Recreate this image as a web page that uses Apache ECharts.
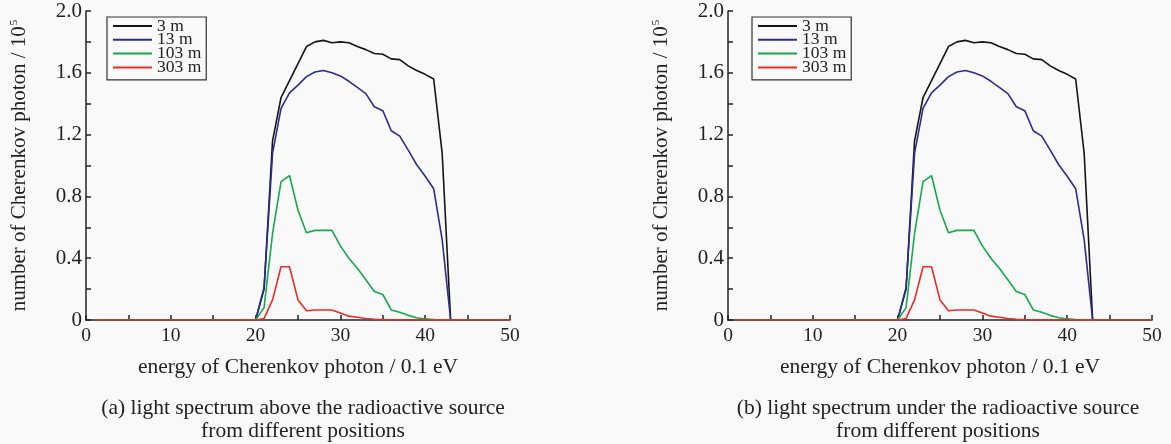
<!DOCTYPE html>
<html>
<head>
<meta charset="utf-8">
<script src="https://cdn.jsdelivr.net/npm/echarts@6/dist/echarts.min.js"></script>
<style>
html,body{margin:0;padding:0;background:#f9f9f9;}
#chart{width:1171px;height:444px;}
</style>
</head>
<body>
<div id="chart"></div>
<script>
// energy (x, in 0.1 eV)
const energies = [1,2,3,4,5,6,7,8,9,10,11,12,13,14,15,16,17,18,19,20,21,22,23,24,25,26,27,28,29,30,31,32,33,34,35,36,37,38,39,40,41,42,43,44,45,46,47,48,49,50];
// number of Cherenkov photon / 10^5
const d3m   = [0,0,0,0,0,0,0,0,0,0,0,0,0,0,0,0,0,0,0,0,0.20,1.16,1.44,1.55,1.66,1.77,1.80,1.81,1.795,1.80,1.795,1.77,1.75,1.725,1.72,1.69,1.685,1.645,1.615,1.59,1.56,1.08,0,0,0,0,0,0,0,0];
const d13m  = [0,0,0,0,0,0,0,0,0,0,0,0,0,0,0,0,0,0,0,0,0.21,1.08,1.37,1.47,1.52,1.575,1.605,1.615,1.60,1.58,1.545,1.505,1.465,1.38,1.355,1.225,1.19,1.10,1.005,0.93,0.85,0.52,0,0,0,0,0,0,0,0];
const d103m = [0,0,0,0,0,0,0,0,0,0,0,0,0,0,0,0,0,0,0,0,0.08,0.56,0.895,0.935,0.71,0.565,0.58,0.58,0.58,0.48,0.40,0.335,0.26,0.185,0.165,0.065,0.05,0.03,0.015,0.007,0.003,0.002,0,0,0,0,0,0,0,0];
const d303m = [0,0,0,0,0,0,0,0,0,0,0,0,0,0,0,0,0,0,0,0,0.01,0.13,0.345,0.345,0.13,0.06,0.065,0.065,0.065,0.045,0.025,0.018,0.01,0.005,0.003,0.002,0,0,0,0,0,0,0,0,0,0,0,0,0,0];
const seriesNames = ['3 m','13 m','103 m','303 m'];
const seriesColors = ['#151515','#2b2e8c','#17a84a','#ee2a24'];
const panelA = [d3m, d13m, d103m, d303m];
const panelB = [d3m, d13m, d103m, d303m];
const xTickLabels = ['0','10','20','30','40','50'];
const yTickLabels = ['0','0.4','0.8','1.2','1.6','2.0'];
const captionsA = ['(a) light spectrum above the radioactive source','from different positions'];
const captionsB = ['(b) light spectrum under the radioactive source','from different positions'];

const FONT = '"Liberation Serif","Times New Roman",serif';
const TXT = '#222';
const chart = echarts.init(document.getElementById('chart'));

const grids = [
  {left: 86, top: 11, width: 424, height: 309},
  {left: 728, top: 11, width: 424, height: 309}
];
const legendLeft = [107, 752];

function xAxisOpt(i){
  return {
    gridIndex: i, type: 'value', min: 0, max: 50, interval: 5,
    name: 'energy of Cherenkov photon / 0.1 eV', nameLocation: 'middle', nameGap: 36,
    nameTextStyle: {fontFamily: FONT, fontSize: 21.5, color: TXT},
    axisLine: {show: true, onZero: false, lineStyle: {color: '#222', width: 1.5}},
    axisTick: {show: true, inside: true, length: 5, lineStyle: {color: '#222', width: 1.5}},
    axisLabel: {margin: 6, fontFamily: FONT, fontSize: 19.5, color: TXT,
      formatter: v => { const s = String(v); return xTickLabels.indexOf(s) >= 0 ? s : ''; }},
    splitLine: {show: false}
  };
}
function yAxisOpt(i){
  return {
    gridIndex: i, type: 'value', min: 0, max: 2, interval: 0.2,
    name: 'number of Cherenkov photon / 10{sup|5}', nameLocation: 'middle', nameGap: 56,
    nameTextStyle: {fontFamily: FONT, fontSize: 21, color: TXT,
      rich: {sup: {fontFamily: FONT, fontSize: 11, color: TXT, verticalAlign: 'top', padding: [0,0,9,1]}}},
    axisLine: {show: true, lineStyle: {color: '#222', width: 1.5}},
    axisTick: {show: true, inside: true, length: 5, lineStyle: {color: '#222', width: 1.5}},
    axisLabel: {margin: 4, fontFamily: FONT, fontSize: 21, color: TXT,
      formatter: v => { const k = Math.round(v * 10); const s = k === 0 ? '0' : (k / 10).toFixed(1); return yTickLabels.indexOf(s) >= 0 ? s : ''; }},
    splitLine: {show: false}
  };
}

const series = [];
[panelA, panelB].forEach((panel, p) => {
  panel.forEach((vals, s) => {
    series.push({
      type: 'line', name: seriesNames[s], xAxisIndex: p, yAxisIndex: p,
      data: energies.map((e, j) => [e, vals[j]]),
      showSymbol: false, symbol: 'none',
      lineStyle: {color: seriesColors[s], width: 1.6},
      itemStyle: {color: seriesColors[s]},
      z: 3 + s
    });
  });
});

const legends = legendLeft.map(l => ({
  orient: 'vertical', left: l, top: 17,
  icon: 'rect', itemWidth: 39, itemHeight: 2, itemGap: -4.2,
  padding: [0, 5, 3.5, 6],
  borderColor: '#333', borderWidth: 1.2, backgroundColor: '#f9f9f9',
  textStyle: {fontFamily: FONT, fontSize: 17.5, color: TXT},
  data: seriesNames,
  selectedMode: false
}));

const captions = [];
[[captionsA, 303], [captionsB, 938]].forEach(([caps, cx]) => {
  caps.forEach((t, k) => {
    captions.push({type: 'text', x: cx, y: 408 + k * 23,
      style: {text: t, align: 'center', verticalAlign: 'middle', font: '21.5px ' + FONT, fill: TXT}});
  });
});

chart.setOption({
  backgroundColor: '#f9f9f9',
  animation: false,
  grid: grids,
  xAxis: [xAxisOpt(0), xAxisOpt(1)],
  yAxis: [yAxisOpt(0), yAxisOpt(1)],
  legend: legends,
  series: series,
  graphic: captions
});
</script>
</body>
</html>
